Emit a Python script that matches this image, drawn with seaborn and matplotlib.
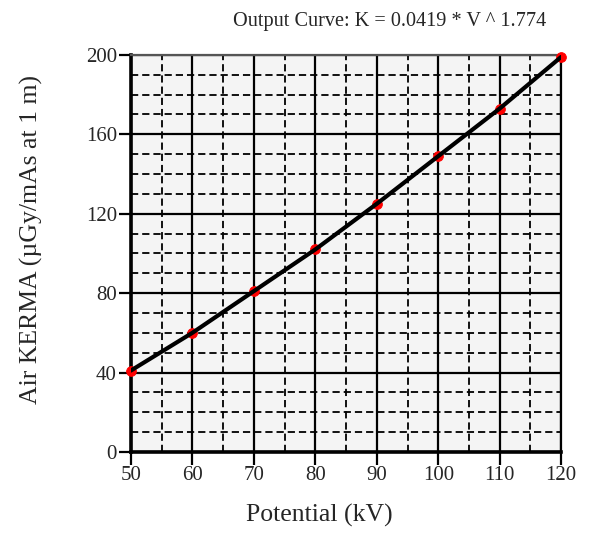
import numpy as np
import pandas as pd
import seaborn as sns
import matplotlib.pyplot as plt
from matplotlib.ticker import MultipleLocator

# values
potential_kv = [50, 60, 70, 80, 90, 100, 110, 120]
air_kerma = [41, 60, 81, 102, 125, 149, 173, 199]
x_ticks = [50, 60, 70, 80, 90, 100, 110, 120]
y_ticks = [0, 40, 80, 120, 160, 200]

df = pd.DataFrame({"kv": potential_kv, "kerma": air_kerma})

sns.set_style("white")
plt.rcParams['font.family'] = ['Liberation Serif', 'DejaVu Serif']

fig = plt.figure(figsize=(5.92, 5.33), dpi=100)
ax = fig.add_axes([0.221, 0.152, 0.727, 0.745])
ax.set_facecolor("#f4f4f4")

sns.scatterplot(data=df, x="kv", y="kerma", ax=ax, color="red", s=50,
                marker="o", edgecolor="red", zorder=3, clip_on=False)
sns.lineplot(data=df, x="kv", y="kerma", ax=ax, color="black", lw=3, zorder=4)

ax.set_xlim(50, 120)
ax.set_ylim(0, 200)
ax.set_xticks(x_ticks)
ax.set_yticks(y_ticks)
ax.xaxis.set_minor_locator(MultipleLocator(5))
ax.yaxis.set_minor_locator(MultipleLocator(10))

ax.grid(which="major", color="black", lw=1.6, ls="-", zorder=1)
ax.grid(which="minor", color="black", lw=1.3, ls=(0, (4, 2.2)), zorder=1)
ax.set_axisbelow(True)

ax.tick_params(which="major", direction="out", length=9, width=1.6,
               labelsize=15, color="black", pad=1, left=True, bottom=True)
ax.tick_params(which="minor", length=0)

for side in ["left", "bottom"]:
    ax.spines[side].set_linewidth(2.6)
    ax.spines[side].set_color("black")
ax.spines["top"].set_linewidth(1.6)
ax.spines["top"].set_color("#555555")
ax.spines["right"].set_linewidth(1.6)
ax.spines["right"].set_color("black")

ax.set_xlabel("Potential (kV)", fontsize=18.5)
ax.set_ylabel("Air KERMA (\u00b5Gy/mAs at 1 m)", fontsize=18.5)
ax.xaxis.set_label_coords(0.437, -0.13)
ax.yaxis.set_label_coords(-0.205, 0.534)
ax.set_title("Output Curve: K = 0.0419 * V ^ 1.774", fontsize=14.6,
             x=0.602, pad=21)

fig.savefig("out.png", dpi=100)
